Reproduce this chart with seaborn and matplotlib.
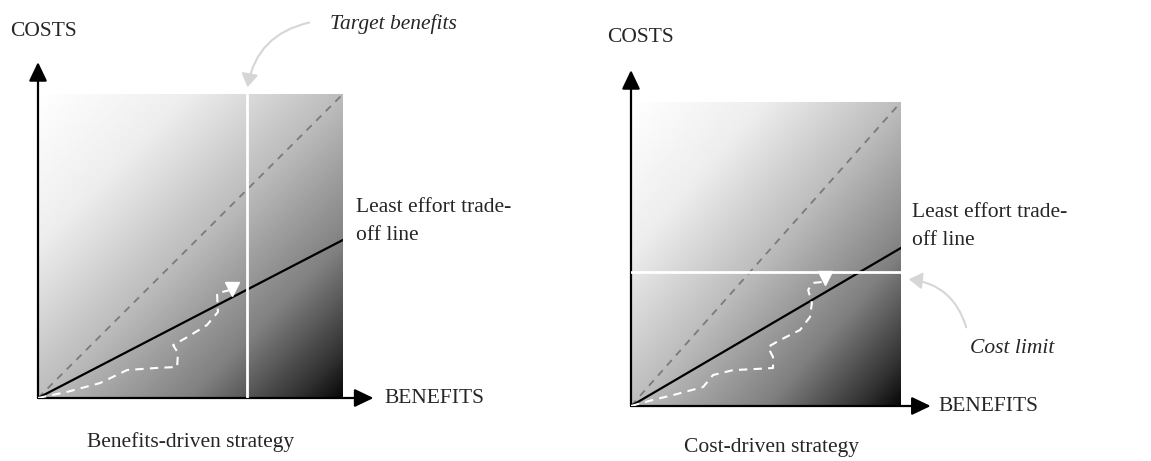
"""Cost/benefit strategy diagrams"""

import numpy as np
import pandas as pd
import matplotlib.pyplot as plt
import seaborn as sb
from matplotlib.patches import FancyArrowPatch

W, H = 1151, 461

# diagonal reference line and least effort trade-off line (benefit, cost)
diag_x = [0.0, 1.0]
diag_y = [0.0, 1.0]
tradeoff_x = [0.0, 1.0]
tradeoff_y = [0.0, 0.52]

# target benefits (left) and cost limit (right)
target_benefit = 0.685
cost_limit = 0.44

# wiggly search paths
left_path_x = [0.0, 0.095, 0.203, 0.292, 0.39, 0.456, 0.459, 0.443, 0.489, 0.554, 0.59, 0.587, 0.63]
left_path_y = [0.0, 0.02, 0.049, 0.092, 0.099, 0.102, 0.148, 0.174, 0.2, 0.24, 0.283, 0.345, 0.355]
left_end = (0.636, 0.36)

right_path_x = [0.0, 0.081, 0.156, 0.267, 0.304, 0.378, 0.467, 0.526, 0.526, 0.507, 0.552, 0.626, 0.663, 0.67, 0.656, 0.674, 0.711]
right_path_y = [0.0, 0.02, 0.036, 0.0625, 0.102, 0.118, 0.122, 0.125, 0.161, 0.194, 0.217, 0.25, 0.293, 0.339, 0.382, 0.405, 0.408]
right_end = (0.719, 0.42)

titles = ["Benefits-driven strategy", "Cost-driven strategy"]

# background shade along the top-left -> bottom-right diagonal
shade_pos = [0.0, 0.25, 0.5, 0.75, 0.92, 1.0]
shade_level = [1.0, 0.93, 0.74, 0.5, 0.2, 0.03]

sb.set_style("white")
plt.rcParams["font.family"] = ["Liberation Serif", "DejaVu Serif"]

fig = plt.figure(figsize=(W / 100, H / 100), dpi=100)

ARROW = "-|>,head_length=1.15,head_width=0.55"


def px(x, y):
    """pixel (top-left origin) to figure fraction"""
    return x / W, 1 - y / H


def axis_arrow(ax, tip):
    ax.annotate("", xy=tip, xytext=(0, 0), xycoords="axes fraction",
                arrowprops=dict(arrowstyle=ARROW, color="black", lw=1.6, shrinkA=0, shrinkB=0),
                annotation_clip=False)


def panel(box, path_x, path_y, end, x_tip, y_tip):
    x0, y0, x1, y1 = box
    ax = fig.add_axes([x0 / W, 1 - y1 / H, (x1 - x0) / W, (y1 - y0) / H])
    ax.set_xlim(0, 1)
    ax.set_ylim(0, 1)
    ax.axis("off")

    # light top-left -> black bottom-right background
    gx, gy = np.meshgrid(np.linspace(0, 1, 400), np.linspace(0, 1, 400))
    shade = np.interp((gx + gy) / 2, shade_pos, shade_level)
    ax.imshow(shade, cmap="gray", vmin=0, vmax=1, extent=(0, 1, 0, 1), aspect="auto", zorder=0)

    sb.lineplot(x=diag_x, y=diag_y, color="#7a7a7a", linestyle=(0, (4, 3.5)), linewidth=1.3, ax=ax, zorder=2)
    sb.lineplot(x=tradeoff_x, y=tradeoff_y, color="black", linewidth=1.6, ax=ax, zorder=3)

    df = pd.DataFrame({"x": path_x, "y": path_y})
    sb.lineplot(data=df, x="x", y="y", sort=False, estimator=None, color="white",
                linestyle=(0, (4, 3)), linewidth=1.5, ax=ax, zorder=4)
    ax.plot(*end, marker="v", color="white", markersize=10, zorder=5, clip_on=False)

    axis_arrow(ax, (0, y_tip))
    axis_arrow(ax, (x_tip, 0))
    return ax


ax1 = panel((38, 94, 343, 398), left_path_x, left_path_y, left_end, 1.1, 1.105)
sb.lineplot(x=[target_benefit, target_benefit], y=[0, 1], sort=False, estimator=None,
            color="white", linewidth=2, ax=ax1, zorder=3.5)

ax2 = panel((631, 102, 901, 406), right_path_x, right_path_y, right_end, 1.11, 1.105)
sb.lineplot(x=[0, 1], y=[cost_limit, cost_limit], sort=False, estimator=None,
            color="white", linewidth=2, ax=ax2, zorder=3.5)

fs = 15.5
# left panel texts
fig.text(*px(10, 32), "COSTS", fontsize=fs, va="center", ha="left")
fig.text(*px(384, 398), "BENEFITS", fontsize=fs, va="center", ha="left")
fig.text(*px(356, 207), "Least effort trade-", fontsize=fs, va="center", ha="left")
fig.text(*px(356, 235), "off line", fontsize=fs, va="center", ha="left")
fig.text(*px(191, 442), titles[0], fontsize=fs, va="center", ha="center")
fig.text(*px(330, 24), "Target benefits", fontsize=fs, va="center", ha="left", style="italic")

# right panel texts
fig.text(*px(607, 38), "COSTS", fontsize=fs, va="center", ha="left")
fig.text(*px(938, 406), "BENEFITS", fontsize=fs, va="center", ha="left")
fig.text(*px(912, 212), "Least effort trade-", fontsize=fs, va="center", ha="left")
fig.text(*px(912, 240), "off line", fontsize=fs, va="center", ha="left")
fig.text(*px(772, 447), titles[1], fontsize=fs, va="center", ha="center")
fig.text(*px(970, 348), "Cost limit", fontsize=fs, va="center", ha="left", style="italic")

# curved call-out arrows
fig.patches.append(FancyArrowPatch(px(312, 22), px(247, 90), transform=fig.transFigure,
                                   connectionstyle="arc3,rad=0.35", arrowstyle="-|>,head_length=8,head_width=5",
                                   color="#d6d6d6", lw=1.5))
fig.patches.append(FancyArrowPatch(px(967, 330), px(906, 279), transform=fig.transFigure,
                                   connectionstyle="arc3,rad=0.35", arrowstyle="-|>,head_length=8,head_width=5",
                                   color="#d6d6d6", lw=1.5))

plt.savefig("out.png", dpi=100)
plt.close()
